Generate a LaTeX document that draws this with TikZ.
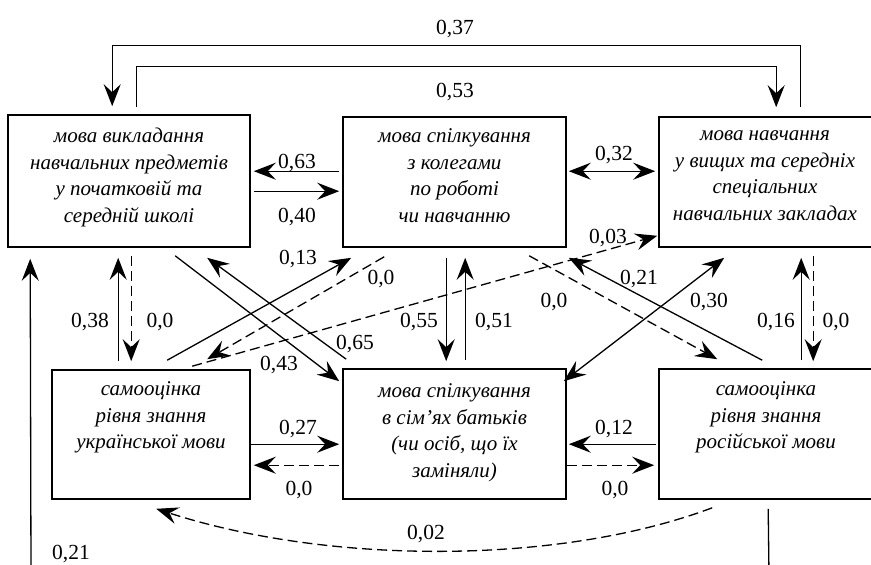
\documentclass[tikz,border=0pt]{standalone}
\usepackage{fontspec}
\setmainfont{Liberation Serif}
\usetikzlibrary{arrows.meta,calc}
\tikzset{BigTip/.tip={Stealth[length=22pt,width=17pt,inset=8pt]}}
\begin{document}
\begin{tikzpicture}[x=1pt,y=-1pt,
  box/.style={draw, line width=1.6pt, rectangle, inner sep=0pt},
  btxt/.style={font=\fontsize{21}{26.8}\selectfont\itshape, align=center, inner sep=0pt, anchor=north},
  lbl/.style={font=\fontsize{21.5}{24}\selectfont, inner sep=0pt, anchor=base},
  conn/.style={line width=1.3pt},
  dsh/.style={line width=1.3pt, dash pattern=on 10pt off 5pt},
  fwd/.style={-BigTip},
  both/.style={BigTip-BigTip}]
\useasboundingbox (0,0) rectangle (871,565);
\clip (0,0) rectangle (871,565);

% boxes
\node[box, minimum width=242pt, minimum height=132pt] (A) at (129,181) {};
\node[box, minimum width=223pt, minimum height=130pt] (B) at (454.5,182) {};
\node[box, minimum width=214pt, minimum height=130pt] (C) at (766,182) {};
\node[box, minimum width=198pt, minimum height=129pt] (D) at (151,434.5) {};
\node[box, minimum width=223pt, minimum height=130pt] (E) at (454.5,434) {};
\node[box, minimum width=214pt, minimum height=130pt] (F) at (766,434) {};

% box texts
\node[btxt] (At) at (129,126) {\rule{0pt}{16pt}мова викладання\\навчальних предметів\\у початковій та\\середній школі};
\node[btxt] (Bt) at (454.5,126) {\rule{0pt}{16pt}мова спілкування\\з колегами\\по роботі\\чи навчанню};
\node[btxt] (Ct) at (765,124) {\rule{0pt}{16pt}мова навчання\\у вищих та середніх\\спеціальних\\навчальних закладах};
\node[btxt] (Dt) at (151,379) {\rule{0pt}{16pt}самооцінка\\рівня знання\\української мови};
\node[btxt] (Et) at (454.5,381) {\rule{0pt}{16pt}мова спілкування\\в сім’ях батьків\\(чи осіб, що їх\\заміняли)};
\node[btxt] (Ft) at (766,379) {\rule{0pt}{16pt}самооцінка\\рівня знання\\російської мови};

% top loops
\draw[conn,fwd] ([shift={(142,-9)}]C.north west) -- ++(0,-62) -| ([shift={(105,-8)}]A.north west);
\draw[conn,fwd] ([shift={(129,-7)}]A.north west) -- ++(0,-41) -| ([shift={(118,-9)}]C.north west);

% top row horizontals
\draw[conn,fwd] ([shift={(-3,55)}]B.north west) -- ([shift={(3,57)}]A.north east);
\draw[conn,fwd] ([shift={(3,77)}]A.north east) -- ([shift={(-3,75)}]B.north west);
\draw[conn,both] ([shift={(2,55)}]B.north east) -- ([shift={(-3,55)}]C.north west);

% verticals left
\draw[conn,fwd] ([shift={(67,-8)}]D.north west) -- ([shift={(111,10)}]A.south west);
\draw[dsh,fwd] ([shift={(124,8)}]A.south west) -- ([shift={(80,-8)}]D.north west);
\coordinate (bl) at (31,575);
\draw[conn,fwd] (bl) -- ([shift={(23,11)}]A.south west);

% diagonals
\draw[conn,fwd] ([shift={(168,8)}]A.south west) -- ([shift={(-3,13)}]E.north west);
\draw[conn,fwd] ([shift={(4,-9)}]E.north west) -- ([shift={(200,10)}]A.south west);
\draw[conn,fwd] ([shift={(116,-9)}]D.north west) -- ([shift={(9,10)}]B.south west);
\draw[dsh,fwd] ([shift={(42,9)}]B.south west) -- ([shift={(156,-10)}]D.north west);
\draw[dsh,fwd] ([shift={(141,-3)}]D.north west) -- ([shift={(-1,-12)}]C.south west);

% verticals middle
\draw[conn,fwd] ([shift={(104,10)}]B.south west) -- ([shift={(104,-7)}]E.north west);
\draw[conn,fwd] ([shift={(123,-8)}]E.north west) -- ([shift={(123,10)}]B.south west);

% diagonals right
\draw[dsh,fwd] ([shift={(187,8)}]B.south west) -- ([shift={(59,-9)}]F.north west);
\draw[conn,fwd] ([shift={(104,-8)}]F.north west) -- ([shift={(2,10)}]B.south east);
\draw[conn,both] ([shift={(-3,13)}]E.north east) -- ([shift={(66,10)}]C.south west);

% verticals right
\draw[conn,fwd] ([shift={(143,-8)}]F.north west) -- ([shift={(143,10)}]C.south west);
\draw[dsh,fwd] ([shift={(155,8)}]C.south west) -- ([shift={(155,-7)}]F.north west);

% bottom row horizontals
\draw[conn,fwd] ([shift={(0,75)}]D.north east) -- ([shift={(-3,76)}]E.north west);
\draw[dsh,fwd] ([shift={(-3,97)}]E.north west) -- ([shift={(3,96)}]D.north east);
\draw[conn,fwd] ([shift={(-2,76)}]F.north west) -- ([shift={(2,76)}]E.north east);
\draw[dsh,fwd] ([shift={(0,97)}]E.north east) -- ([shift={(-4,97)}]F.north west);

% bottom curve
\draw[dsh,fwd] ([shift={(54,8)}]F.south west) .. controls (560,565) and (330,565) .. ([shift={(105,9)}]D.south west);
\coordinate (br) at (769,575);
\draw[conn] ([shift={(110,9)}]F.south west) -- (br);

% labels
\node[lbl] (l37) at (455,34) {0,37};
\node[lbl] (l53) at (455,97) {0,53};
\node[lbl] (l63) at (297,168) {0,63};
\node[lbl] (l40) at (297,222) {0,40};
\node[lbl] (l32) at (614,160) {0,32};
\node[lbl] (l38) at (90,327) {0,38};
\node[lbl] (l00a) at (160,327) {0,0};
\node[lbl] (l21a) at (71,559) {0,21};
\node[lbl] (l43) at (279,370) {0,43};
\node[lbl] (l65) at (355,349) {0,65};
\node[lbl] (l13) at (298,264) {0,13};
\node[lbl] (l00b) at (381,284) {0,0};
\node[lbl] (l03) at (608,243) {0,03};
\node[lbl] (l55) at (419,327) {0,55};
\node[lbl] (l51) at (494,327) {0,51};
\node[lbl] (l00c) at (554,307) {0,0};
\node[lbl] (l21b) at (639,284) {0,21};
\node[lbl] (l30) at (709,307) {0,30};
\node[lbl] (l16) at (776,327) {0,16};
\node[lbl] (l00d) at (836,327) {0,0};
\node[lbl] (l27) at (298,434) {0,27};
\node[lbl] (l00e) at (299,495) {0,0};
\node[lbl] (l12) at (614,434) {0,12};
\node[lbl] (l00f) at (615,495) {0,0};
\node[lbl] (l02) at (426,539) {0,02};
\end{tikzpicture}
\end{document}
